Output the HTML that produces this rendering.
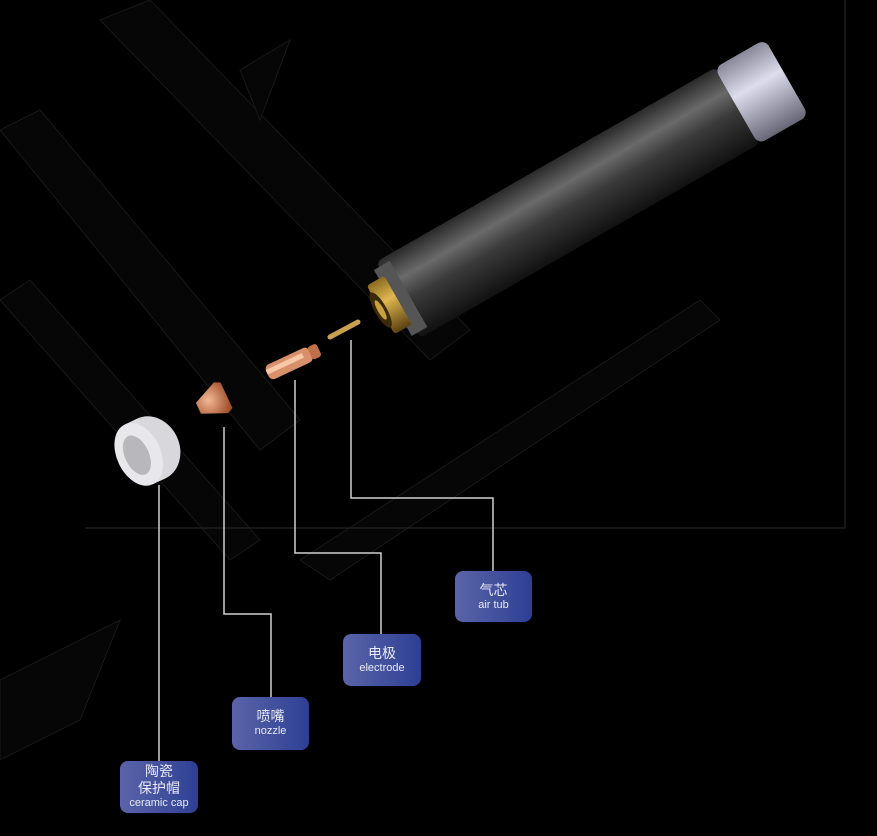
<!DOCTYPE html>
<html><head><meta charset="utf-8"><style>
html,body{margin:0;padding:0;background:#000;}
.box{position:absolute;border-radius:8px;background:linear-gradient(90deg,#5a64a8,#2e3f94);color:#e8eaf6;text-align:center;font-family:"Liberation Sans","Noto Sans CJK SC",sans-serif;}
.cn{font-size:14px;line-height:17px;}
.en{font-size:11px;line-height:13px;}
</style></head><body>
<div style="position:relative;width:877px;height:836px;overflow:hidden;background:#000;">
<svg width="877" height="836" style="position:absolute;left:0;top:0">
<defs>
<linearGradient id="body" x1="0" y1="0" x2="0" y2="1">
<stop offset="0" stop-color="#2a2a2a"/><stop offset="0.3" stop-color="#6a6a6a"/><stop offset="0.55" stop-color="#3a3a3a"/><stop offset="1" stop-color="#111"/></linearGradient>
<linearGradient id="brass" x1="0" y1="0" x2="0" y2="1">
<stop offset="0" stop-color="#8a6a20"/><stop offset="0.4" stop-color="#e0b850"/><stop offset="1" stop-color="#5a4010"/></linearGradient>
<linearGradient id="cap" x1="0" y1="0" x2="0" y2="1">
<stop offset="0" stop-color="#889"/><stop offset="0.4" stop-color="#dde"/><stop offset="1" stop-color="#667"/></linearGradient>
<radialGradient id="cu" cx="0.4" cy="0.4" r="0.7"><stop offset="0" stop-color="#f4b896"/><stop offset="1" stop-color="#a0502a"/></radialGradient>
</defs>
<g fill="#060606" stroke="#181818" stroke-width="1">
<polygon points="100,20 150,0 470,330 430,360"/>
<polygon points="0,130 40,110 300,420 260,450"/>
<polygon points="0,300 30,280 260,540 230,560"/>
<polygon points="300,560 700,300 720,320 330,580"/>
<polygon points="240,70 290,40 260,120"/>
<polygon points="0,680 120,620 80,720 0,760"/>
</g>
<polyline points="85,528 845,528 845,0" fill="none" stroke="#1e1e1e" stroke-width="1.5"/>
<g transform="translate(398,300) rotate(-29.8)">
<rect x="0" y="-44" width="392" height="88" rx="6" fill="url(#body)"/>
<rect x="390" y="-44" width="58" height="88" rx="8" fill="url(#cap)"/>
<rect x="-6" y="-38" width="18" height="76" fill="#555"/>
<rect x="-20" y="-28" width="20" height="56" rx="3" fill="url(#brass)"/>
<ellipse cx="-20" cy="0" rx="6" ry="20" fill="#3a2a08"/>
<ellipse cx="-20" cy="0" rx="3" ry="11" fill="#c9a040"/>
</g>
<line x1="330" y1="337" x2="358" y2="322" stroke="#c9a050" stroke-width="5" stroke-linecap="round"/>
<g transform="translate(290,363) rotate(-25)">
<rect x="-25" y="-8" width="48" height="16" rx="5" fill="#d8906a"/>
<rect x="-25" y="-4" width="40" height="5" fill="#f6c8a8"/>
<rect x="22" y="-7" width="10" height="14" rx="3" fill="#c07048"/>
</g>
<g transform="translate(212,402) rotate(-25)">
<path d="M-15,-6 L10,-17 L16,-14 L16,14 L10,17 L-15,6 Z" fill="url(#cu)"/>
</g>
<g transform="translate(146,451) rotate(-25)">
<ellipse cx="6" cy="0" rx="28" ry="33" fill="#d8d8dc"/>
<rect x="-8" y="-33" width="14" height="66" fill="#dcdce0"/>
<ellipse cx="-8" cy="0" rx="22" ry="33" fill="#e8e8ec"/>
<ellipse cx="-10" cy="0" rx="12" ry="21" fill="#b8b8bc"/>
</g>
<g fill="none" stroke="#cfcfcf" stroke-width="1.5">
<polyline points="159,485 159,762"/>
<polyline points="224,427 224,614 271,614 271,697"/>
<polyline points="295,380 295,553 381,553 381,634"/>
<polyline points="351,340 351,498 493,498 493,571"/>
</g>
</svg>
<div class="box" style="left:455px;top:571px;width:77px;height:51px;"><div class="cn" style="margin-top:11px">气芯</div><div class="en">air tub</div></div>
<div class="box" style="left:343px;top:634px;width:78px;height:52px;"><div class="cn" style="margin-top:11px">电极</div><div class="en">electrode</div></div>
<div class="box" style="left:232px;top:697px;width:77px;height:53px;"><div class="cn" style="margin-top:11px">喷嘴</div><div class="en">nozzle</div></div>
<div class="box" style="left:120px;top:761px;width:78px;height:52px;"><div class="cn" style="margin-top:2px">陶瓷<br>保护帽</div><div class="en">ceramic cap</div></div>
</div>
</body></html>
